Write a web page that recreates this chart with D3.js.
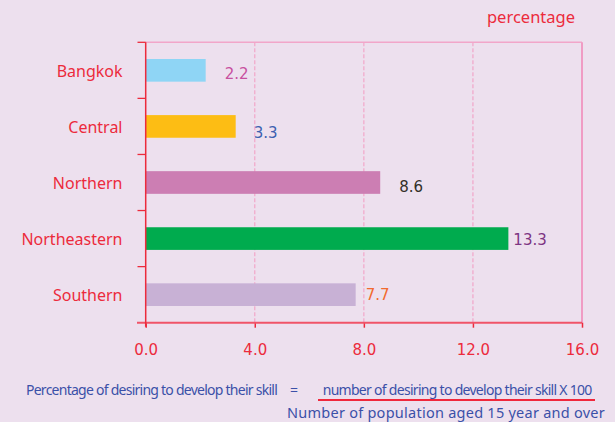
<!DOCTYPE html>
<html>
<head>
<meta charset="utf-8">
<script src="https://cdn.jsdelivr.net/npm/d3@7"></script>
<style>
  html, body { margin: 0; padding: 0; background: #ede0ee; }
  svg { display: block; }
</style>
</head>
<body>
<svg id="chart" width="615" height="422"></svg>
<script>
// ---- data ----
const regions = ["Bangkok", "Central", "Northern", "Northeastern", "Southern"];
const values = [2.2, 3.3, 8.6, 13.3, 7.7];
const xTicks = [0, 4, 8, 12, 16];
const unitLabel = "percentage";
const formulaLeft = "Percentage of desiring to develop their skill";
const formulaNumerator = "number of desiring to develop their skill X 100";
const formulaDenominator = "Number of population aged 15 year and over";

// ---- styles / layout ----
const barColors = ["#8fd5f5", "#fdbd14", "#cc7eb3", "#00ab4e", "#c8b1d5"];
const labelColors = ["#c8509f", "#3d60b0", "#333028", "#7e3583", "#f26a2f"];
const labelDx = [19, 18, 19, 5, 10];
const labelDy = [9, 11.5, 9, 6, 5];
const red = "#ec2b3c";
const pink = "#f2a6c9";

const svg = d3.select("#chart");
const margin = { left: 145.7, right: 582, top: 42.3, bottom: 322.7 };

const x = d3.scaleLinear().domain([0, 16]).range([margin.left, margin.right]);
const y = d3.scaleBand().domain(regions).range([margin.top, margin.bottom]).paddingInner(0.596).paddingOuter(0.298);
const yb = d3.scaleBand().domain(regions).range([margin.top, margin.bottom]);

svg.append("rect").attr("width", 615).attr("height", 422).attr("fill", "#ede0ee");

// grid lines
svg.append("g").selectAll("line").data(xTicks.filter(d => d > 0 && d < 16)).join("line")
  .attr("x1", d => x(d)).attr("x2", d => x(d))
  .attr("y1", margin.top).attr("y2", margin.bottom)
  .attr("stroke", pink).attr("stroke-width", 1.2).attr("stroke-dasharray", "4,2");

// top & right border
svg.append("line").attr("x1", margin.left).attr("x2", x(16)).attr("y1", margin.top).attr("y2", margin.top)
  .attr("stroke", pink).attr("stroke-width", 1.6);
svg.append("line").attr("x1", x(16)).attr("x2", x(16)).attr("y1", margin.top).attr("y2", margin.bottom)
  .attr("stroke", "#f09cc4").attr("stroke-width", 2);

// bars
svg.append("g").selectAll("rect").data(values).join("rect")
  .attr("x", x(0))
  .attr("y", (d, i) => y(regions[i]))
  .attr("width", d => x(d) - x(0))
  .attr("height", y.bandwidth())
  .attr("fill", (d, i) => barColors[i]);

// value labels
svg.append("g").selectAll("text").data(values).join("text")
  .attr("x", (d, i) => x(d) + labelDx[i])
  .attr("y", (d, i) => y(regions[i]) + y.bandwidth() / 2 + labelDy[i])
  .attr("fill", (d, i) => labelColors[i])
  .attr("font-family", "DejaVu Sans")
  .attr("font-size", 15)
  .text(d => d.toFixed(1));

// x axis
const xAxis = svg.append("g").attr("transform", `translate(0,${margin.bottom})`)
  .call(d3.axisBottom(x).tickValues(xTicks).tickFormat(d3.format(".1f")).tickSize(5).tickSizeOuter(0).tickPadding(17));
xAxis.select(".domain").remove();
xAxis.selectAll(".tick line").attr("stroke", red).attr("stroke-width", 1.5);
xAxis.selectAll(".tick text").attr("fill", red).attr("font-family", "DejaVu Sans").attr("font-size", 15);
svg.append("line").attr("x1", 137).attr("x2", x(16)).attr("y1", margin.bottom).attr("y2", margin.bottom)
  .attr("stroke", "#f05468").attr("stroke-width", 2);

// y axis
svg.append("line").attr("x1", margin.left).attr("x2", margin.left).attr("y1", margin.top).attr("y2", margin.bottom + 4)
  .attr("stroke", red).attr("stroke-width", 1.5);
svg.append("g").selectAll("line").data(regions).join("line")
  .attr("x1", 137.5).attr("x2", margin.left)
  .attr("y1", d => yb(d)).attr("y2", d => yb(d))
  .attr("stroke", red).attr("stroke-width", 1.3);
svg.append("g").selectAll("text").data(regions).join("text")
  .attr("x", 122.5)
  .attr("y", d => yb(d) + yb.bandwidth() / 2 + 6.5)
  .attr("text-anchor", "end")
  .attr("fill", red)
  .attr("font-family", "Noto Sans")
  .attr("font-size", 16)
  .text(d => d);

// unit label
svg.append("text").attr("x", 575).attr("y", 23.3).attr("text-anchor", "end")
  .attr("fill", red).attr("font-family", "Noto Sans").attr("font-size", 16.5).text(unitLabel);

// formula (fit each text to its width with letter-spacing so its real box matches)
const blue = "#3b50a8";
function fitted(txt, x0, y0, size, width) {
  const t = svg.append("text").attr("x", x0).attr("y", y0).attr("fill", blue)
    .attr("font-family", "Noto Sans").attr("font-size", size).text(txt);
  const natural = t.node().getComputedTextLength();
  const ls = (width - natural) / txt.length;
  t.attr("letter-spacing", ls.toFixed(3));
  return t;
}
fitted(formulaLeft, 26, 395, 14, 251);
svg.append("text").attr("x", 290).attr("y", 395).attr("fill", blue)
  .attr("font-family", "Noto Sans").attr("font-size", 14).text("=");
fitted(formulaNumerator, 322.7, 395, 14, 269);
svg.append("line").attr("x1", 318).attr("x2", 595).attr("y1", 400).attr("y2", 400)
  .attr("stroke", "#f0283c").attr("stroke-width", 2);
fitted(formulaDenominator, 287, 418, 14.5, 318);
</script>
</body>
</html>
